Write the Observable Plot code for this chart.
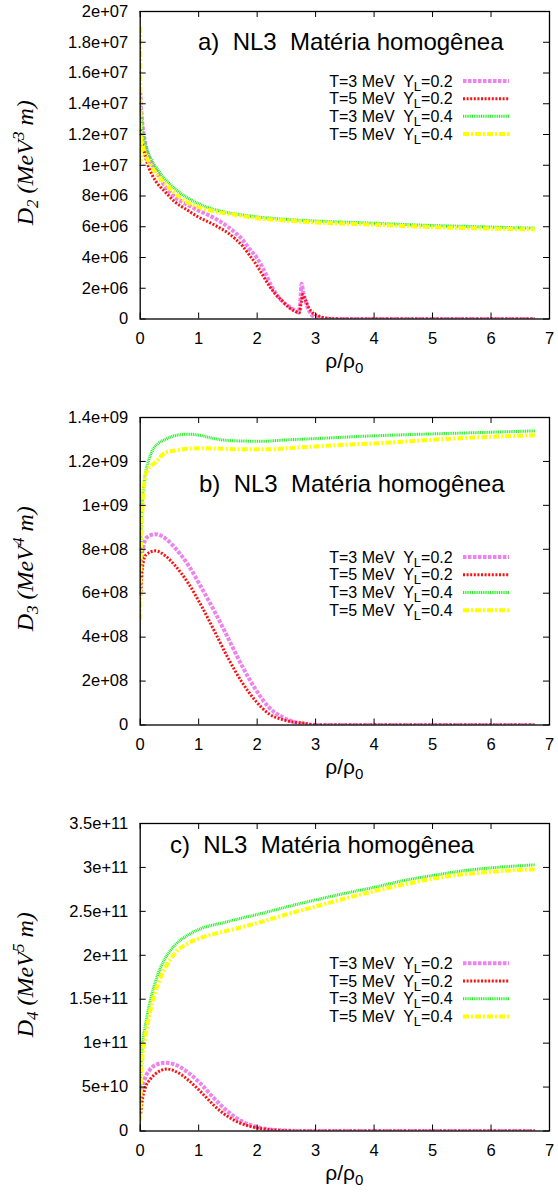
<!DOCTYPE html>
<html>
<head>
<meta charset="utf-8">
<script src="https://cdn.jsdelivr.net/npm/d3@7"></script>
<script src="https://cdn.jsdelivr.net/npm/@observablehq/plot@0.6"></script>
<style>
  body { margin: 0; background: #fff; }
  #chart svg { display: block; }
</style>
</head>
<body>
<div id="chart"></div>
<script>
// ρ/ρ0 axis ticks (shared by all three panels)
const rhoTicks = [0, 1, 2, 3, 4, 5, 6, 7];

// y-axis ticks of each panel
const yTicksD2 = [0, 2e6, 4e6, 6e6, 8e6, 1e7, 1.2e7, 1.4e7, 1.6e7, 1.8e7, 2e7];
const yTicksD3 = [0, 2e8, 4e8, 6e8, 8e8, 1e9, 1.2e9, 1.4e9];
const yTicksD4 = [0, 5e10, 1e11, 1.5e11, 2e11, 2.5e11, 3e11, 3.5e11];

// legend entries
const legendT = ["T=3 MeV", "T=5 MeV", "T=3 MeV", "T=5 MeV"];
const legendYL = ["0.2", "0.2", "0.4", "0.4"];

// a) D2, values in units of 1e6 MeV^3 m, pairs [ρ/ρ0, D2]
const d2Violet = [[0,14.8],[0.03,13.0],[0.06,12.0],[0.1,11.2],[0.2,10.1],[0.26,9.7],[0.43,8.6],[0.6,7.92],[0.8,7.45],[1.0,7.05],[1.2,6.7],[1.34,6.4],[1.5,6.0],[1.63,5.6],[1.75,5.15],[1.86,4.6],[2.0,3.95],[2.1,3.3],[2.25,2.1],[2.35,1.5],[2.43,1.15],[2.55,0.8],[2.65,0.55],[2.71,0.42],[2.74,1.2],[2.76,2.3],[2.79,1.7],[2.85,0.9],[2.9,0.45],[2.95,0.2],[3.05,0.08],[3.2,0.02],[3.4,0],[6.75,0]];
const d2Red = [[0,12.3],[0.03,11.5],[0.06,11.0],[0.1,10.4],[0.2,9.4],[0.26,9.0],[0.43,8.25],[0.6,7.6],[0.8,7.1],[1.0,6.62],[1.2,6.25],[1.34,5.97],[1.5,5.6],[1.63,5.2],[1.75,4.75],[1.86,4.2],[2.0,3.45],[2.08,2.95],[2.2,2.2],[2.31,1.63],[2.45,1.1],[2.54,0.76],[2.65,0.5],[2.72,0.4],[2.75,1.0],[2.78,1.6],[2.82,1.3],[2.88,0.76],[2.95,0.4],[3.05,0.2],[3.15,0.08],[3.3,0.02],[3.5,0],[6.75,0]];
const d2Green = [[0,14.0],[0.02,13.0],[0.05,12.0],[0.1,11.2],[0.2,10.3],[0.3,9.7],[0.4,9.2],[0.5,8.8],[0.6,8.45],[0.8,7.9],[1.0,7.5],[1.2,7.2],[1.4,7.0],[1.6,6.85],[1.8,6.74],[2.0,6.64],[2.5,6.48],[3.0,6.37],[3.5,6.3],[4.0,6.23],[4.5,6.15],[5.0,6.08],[5.5,6.03],[6.0,5.98],[6.5,5.93],[6.75,5.91]];
const d2Yellow = [[0,19.0],[0.005,10.2],[0.02,11.8],[0.05,11.2],[0.1,10.6],[0.2,9.9],[0.3,9.3],[0.43,8.8],[0.6,8.15],[0.8,7.6],[1.0,7.27],[1.34,6.95],[1.6,6.8],[2.0,6.55],[2.5,6.4],[3.0,6.28],[3.5,6.2],[4.0,6.14],[4.5,6.05],[5.0,5.97],[5.5,5.92],[6.0,5.88],[6.5,5.84],[6.75,5.83]];

// b) D3, values in units of 1e8 MeV^4 m
const d3Violet = [[0,6.0],[0.02,7.4],[0.06,8.2],[0.12,8.55],[0.26,8.69],[0.43,8.5],[0.6,8.05],[0.83,7.25],[1.06,6.19],[1.28,5.13],[1.51,3.92],[1.74,2.7],[1.97,1.64],[2.2,0.81],[2.43,0.36],[2.65,0.13],[2.88,0.02],[3.1,0],[6.75,0]];
const d3Red = [[0.01,5.9],[0.04,7.2],[0.1,7.75],[0.26,7.93],[0.43,7.7],[0.6,7.25],[0.83,6.42],[1.06,5.36],[1.28,4.22],[1.51,3.01],[1.74,1.95],[1.97,1.11],[2.2,0.51],[2.43,0.25],[2.65,0.12],[2.82,0.08],[2.9,0.03],[3.1,0],[6.75,0]];
const d3Green = [[0,6.2],[0.01,8.0],[0.03,9.8],[0.06,10.9],[0.1,11.6],[0.15,12.1],[0.2,12.45],[0.3,12.8],[0.43,13.0],[0.6,13.18],[0.83,13.24],[1.0,13.2],[1.2,13.08],[1.4,12.98],[1.74,12.93],[2.1,12.92],[2.5,12.98],[3.0,13.04],[3.94,13.16],[5.08,13.26],[6.0,13.33],[6.75,13.39]];
const d3Yellow = [[0,4.8],[0.005,6.8],[0.02,8.5],[0.04,10.0],[0.07,11.0],[0.12,11.6],[0.26,11.95],[0.43,12.4],[0.6,12.5],[0.83,12.58],[1.06,12.6],[1.4,12.58],[1.74,12.55],[2.23,12.55],[2.5,12.6],[3.0,12.68],[3.5,12.76],[3.94,12.81],[5.08,13.0],[6.0,13.12],[6.75,13.19]];

// c) D4, values in units of 1e10 MeV^5 m
const d4Violet = [[0,3.0],[0.02,4.5],[0.086,6.06],[0.17,7.0],[0.26,7.5],[0.43,7.77],[0.6,7.55],[0.83,6.6],[1.06,5.2],[1.28,3.6],[1.51,2.15],[1.74,1.1],[1.97,0.5],[2.2,0.2],[2.5,0.05],[2.8,0],[6.75,0]];
const d4Red = [[0.01,2.0],[0.03,3.2],[0.086,4.9],[0.17,5.87],[0.26,6.5],[0.46,7.05],[0.6,6.8],[0.83,5.75],[1.06,4.3],[1.28,2.8],[1.51,1.6],[1.74,0.82],[1.97,0.4],[2.2,0.16],[2.5,0.04],[2.8,0],[6.75,0]];
const d4Green = [[0,2.5],[0.01,6.5],[0.04,9.9],[0.086,11.9],[0.17,14.8],[0.26,17.0],[0.43,19.7],[0.6,21.2],[0.83,22.35],[1.06,23.1],[1.4,23.67],[1.74,24.24],[2.1,24.8],[2.5,25.5],[3.0,26.3],[3.5,27.05],[3.94,27.65],[4.5,28.5],[5.08,29.17],[5.5,29.6],[6.0,29.95],[6.75,30.3]];
const d4Yellow = [[0,1.2],[0.01,5.0],[0.04,8.6],[0.086,10.6],[0.17,13.6],[0.26,15.9],[0.43,18.56],[0.6,20.27],[0.83,21.4],[1.06,22.05],[1.4,22.65],[1.74,23.2],[2.1,23.86],[2.5,24.65],[3.0,25.55],[3.5,26.45],[3.94,27.2],[4.5,28.05],[5.08,28.8],[5.5,29.2],[6.0,29.5],[6.75,29.8]];

// line styles, in legend order
const lineStyles = [
  {stroke: "#ee82ee", width: 4, dash: "3.5,1.5"},
  {stroke: "#ff1010", width: 3, dash: "2,1.6"},
  {stroke: "#22ee22", width: 3, dash: "1,0.8"},
  {stroke: "#ffff00", width: 4, dash: "6,2,2,2"}
];

// gnuplot-style %g exponent labels: 2e+06, 1.8e+07, 5e+10
const expFormat = v => v === 0 ? "0" : v.toExponential().replace(/e([+-])(\d)$/, "e$10$2");

const W = 558, ML = 139.7, MR = 9, MT = 11, PH = 307.5;
const PW = W - ML - MR;

const panels = [
  {title: "a)  NL3  Matéria homogênea", titleX: 198, titleY: 50, unit: 1e6, yMax: 2e7, yTicks: yTicksD2,
   series: [d2Violet, d2Red, d2Green, d2Yellow], legendRows: [81, 98.7, 116.3, 134], sub: "2", pow: "3", height: 406},
  {title: "b)  NL3  Matéria homogênea", titleX: 199, titleY: 86, unit: 1e8, yMax: 1.4e9, yTicks: yTicksD3,
   series: [d3Violet, d3Red, d3Green, d3Yellow], legendRows: [151, 168.7, 186.4, 204.2], sub: "3", pow: "4", height: 406},
  {title: "c)  NL3  Matéria homogênea", titleX: 170, titleY: 41, unit: 1e10, yMax: 3.5e11, yTicks: yTicksD4,
   series: [d4Violet, d4Red, d4Green, d4Yellow], legendRows: [151.3, 169, 186.8, 204.6], sub: "4", pow: "5", height: 381}
];

const root = document.getElementById("chart");

for (const p of panels) {
  const lines = p.series.map((s, i) => Plot.line(s, {
    x: d => d[0],
    y: d => d[1] * p.unit,
    stroke: lineStyles[i].stroke,
    strokeWidth: lineStyles[i].width,
    strokeDasharray: lineStyles[i].dash,
    strokeLinecap: "butt",
    strokeLinejoin: "miter",
    curve: "monotone-x",
    clip: true
  }));

  const svg = Plot.plot({
    width: W,
    height: p.height,
    marginLeft: ML,
    marginRight: MR,
    marginTop: MT,
    marginBottom: p.height - MT - PH,
    style: {fontFamily: "'Liberation Sans', Arial, sans-serif", fontSize: "16.5px", color: "#000", background: "#fff"},
    x: {domain: [0, 7]},
    y: {domain: [0, p.yMax]},
    marks: [
      ...lines,
      // inward ticks on all four sides
      Plot.tickY(p.yTicks, {y: d => d, insetRight: PW - 6, stroke: "#000", strokeWidth: 1}),
      Plot.tickY(p.yTicks, {y: d => d, insetLeft: PW - 6, stroke: "#000", strokeWidth: 1}),
      Plot.tickX(rhoTicks, {x: d => d, insetTop: PH - 6, stroke: "#000", strokeWidth: 1}),
      Plot.tickX(rhoTicks, {x: d => d, insetBottom: PH - 6, stroke: "#000", strokeWidth: 1}),
      Plot.axisX({ticks: rhoTicks, tickSize: 0, tickPadding: 13, tickFormat: d => String(d), label: null, fontSize: 16.5}),
      Plot.axisY({ticks: p.yTicks, tickSize: 0, tickPadding: 12, tickFormat: expFormat, label: null, fontSize: 16.5}),
      Plot.frame({stroke: "#000", strokeWidth: 1.3})
    ]
  });

  const g = d3.select(svg);

  // panel title
  g.append("text")
    .attr("x", p.titleX).attr("y", p.titleY)
    .attr("text-anchor", "start")
    .attr("font-size", 24)
    .style("white-space", "pre")
    .attr("fill", "#000")
    .text(p.title);

  // legend
  const lg = g.append("g").attr("font-size", 16);
  p.legendRows.forEach((ly, i) => {
    const t = lg.append("text")
      .attr("x", 452.7).attr("y", ly + 5.5)
      .attr("text-anchor", "end")
      .style("white-space", "pre")
      .attr("fill", "#000");
    t.append("tspan").text(legendT[i] + "  Y");
    t.append("tspan").attr("font-size", 13).attr("dy", 4).text("L");
    t.append("tspan").attr("dy", -4).text("=" + legendYL[i]);
    lg.append("line")
      .attr("x1", 463).attr("x2", 509).attr("y1", ly).attr("y2", ly)
      .attr("stroke", lineStyles[i].stroke)
      .attr("stroke-width", lineStyles[i].width)
      .attr("stroke-dasharray", lineStyles[i].dash);
  });

  // x-axis title ρ/ρ0
  const xl = g.append("text")
    .attr("x", ML + PW / 2).attr("y", 368)
    .attr("text-anchor", "middle")
    .attr("font-size", 21)
    .attr("fill", "#000");
  xl.append("tspan").text("ρ/ρ");
  xl.append("tspan").attr("font-size", 15).attr("dy", 5).text("0");

  // y-axis title D_n (MeV^k m)
  const yl = g.append("text")
    .attr("transform", `translate(33,${MT + PH / 2 - 2}) rotate(-90)`)
    .attr("text-anchor", "middle")
    .attr("font-family", "'Liberation Serif', 'Times New Roman', serif")
    .attr("font-style", "italic")
    .attr("font-size", 24)
    .style("white-space", "pre")
    .attr("fill", "#000");
  yl.append("tspan").text("D");
  yl.append("tspan").attr("font-size", 17).attr("dy", 5).text(p.sub);
  yl.append("tspan").attr("dy", -5).text(" (MeV");
  yl.append("tspan").attr("font-size", 17).attr("dy", -9).text(p.pow);
  yl.append("tspan").attr("dy", 9).text(" m)");

  root.appendChild(svg);
}
</script>
</body>
</html>
